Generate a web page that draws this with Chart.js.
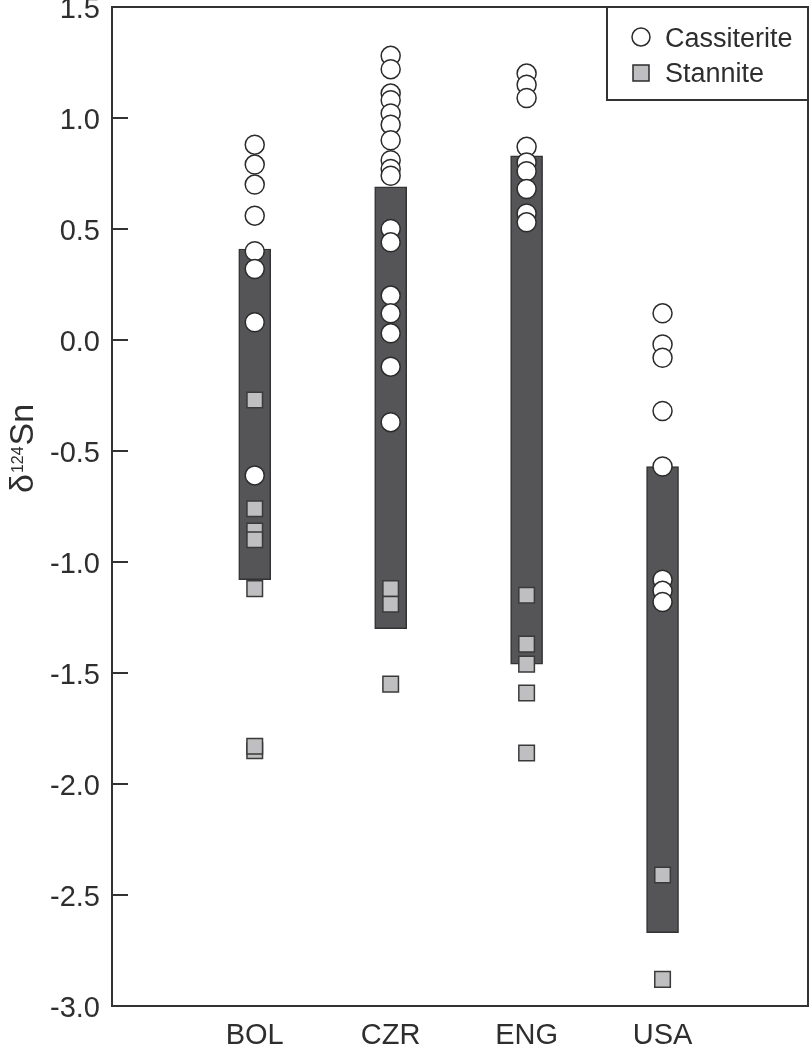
<!DOCTYPE html>
<html><head><meta charset="utf-8">
<script src="https://cdn.jsdelivr.net/npm/chart.js@4.4.1/dist/chart.umd.min.js"></script>
<style>html,body{margin:0;padding:0;background:#fff;}canvas{display:block;}</style>
</head><body>
<canvas id="c" width="809" height="1047"></canvas>
<script>
// ---- data ----
const categories = ['BOL', 'CZR', 'ENG', 'USA'];
const rangeLow  = [-1.08, -1.30, -1.46, -2.67];
const rangeHigh = [0.41, 0.69, 0.83, -0.57];

const cassBOL = [0.88, 0.79, 0.70, 0.56, 0.40, 0.32, 0.08, -0.61];
const cassCZR = [1.28, 1.22, 1.11, 1.08, 1.02, 0.97, 0.90, 0.81, 0.77, 0.74, 0.50, 0.44, 0.20, 0.12, 0.03, -0.12, -0.37];
const cassENG = [1.20, 1.15, 1.09, 0.87, 0.80, 0.76, 0.68, 0.57, 0.53];
const cassUSA = [0.12, -0.02, -0.08, -0.32, -0.57, -1.08, -1.13, -1.18];

const stanBOL = [-0.27, -0.76, -0.86, -0.90, -1.12, -1.85, -1.83];
const stanCZR = [-1.12, -1.19, -1.55];
const stanENG = [-1.15, -1.37, -1.46, -1.59, -1.86];
const stanUSA = [-2.41, -2.88];

const seriesNames = ['Cassiterite', 'Stannite'];
const yMin = -3.0, yMax = 1.5, yStep = 0.5;

// ---- build ----
const FONT = "'Liberation Sans', Arial, Helvetica, sans-serif";
const INK = '#2e2e2e';
const cass = [cassBOL, cassCZR, cassENG, cassUSA];
const stan = [stanBOL, stanCZR, stanENG, stanUSA];
const toPts = groups => groups.flatMap((vals, i) => vals.map(v => ({x: i + 1, y: v})));

const decor = {
  id: 'decor',
  afterDraw(chart) {
    const {ctx, chartArea: a, scales: {y}} = chart;
    ctx.save();
    ctx.strokeStyle = '#333';
    ctx.lineWidth = 2;
    ctx.strokeRect(a.left, a.top, a.right - a.left, a.bottom - a.top);
    // inward tick marks
    y.ticks.forEach(t => {
      if (t.value <= yMin || t.value >= yMax) return;
      const py = y.getPixelForValue(t.value);
      ctx.beginPath();
      ctx.moveTo(a.left, py);
      ctx.lineTo(a.left + 16, py);
      ctx.stroke();
    });
    // legend box
    const lx = 607, ly = a.top, lw = a.right - 607, lh = 100 - a.top;
    ctx.fillStyle = '#fff';
    ctx.fillRect(lx, ly, lw, lh);
    ctx.strokeRect(lx, ly, lw, lh);
    ctx.lineWidth = 1.5;
    ctx.strokeStyle = '#2b2b2b';
    ctx.beginPath();
    ctx.arc(641, 37, 9, 0, Math.PI * 2);
    ctx.fillStyle = '#fff';
    ctx.fill();
    ctx.stroke();
    ctx.fillStyle = '#bfbfc1';
    ctx.fillRect(633, 65, 16, 16);
    ctx.strokeRect(633, 65, 16, 16);
    ctx.fillStyle = INK;
    ctx.font = '27px ' + FONT;
    ctx.textBaseline = 'alphabetic';
    ctx.textAlign = 'left';
    ctx.fillText(seriesNames[0], 665, 47);
    ctx.fillText(seriesNames[1], 665, 82);
    // y-axis title: δ124Sn
    ctx.translate(33, 493);
    ctx.rotate(-Math.PI / 2);
    let x = 0;
    ctx.font = '34px ' + FONT;
    ctx.fillText('δ', x, 0);
    x += ctx.measureText('δ').width + 1;
    ctx.font = '16px ' + FONT;
    ctx.fillText('124', x, -10);
    x += ctx.measureText('124').width + 1;
    ctx.font = '34px ' + FONT;
    ctx.fillText('Sn', x, 0);
    ctx.restore();
  }
};

new Chart(document.getElementById('c'), {
  type: 'scatter',
  data: {
    datasets: [
      {
        type: 'bar',
        label: 'range',
        data: categories.map((c, i) => ({x: i + 1, y: [rangeLow[i], rangeHigh[i]]})),
        barThickness: 32,
        backgroundColor: '#555557',
        borderColor: '#333335',
        borderWidth: 1.5,
        borderSkipped: false,
        order: 3
      },
      {
        type: 'scatter',
        label: seriesNames[1],
        data: toPts(stan),
        pointStyle: 'rect',
        pointRadius: 11,
        backgroundColor: '#bfbfc1',
        borderColor: '#3a3a3a',
        borderWidth: 1.5,
        order: 2,
        clip: false
      },
      {
        type: 'scatter',
        label: seriesNames[0],
        data: toPts(cass),
        pointStyle: 'circle',
        pointRadius: 9.5,
        backgroundColor: '#ffffff',
        borderColor: '#2b2b2b',
        borderWidth: 1.5,
        order: 1,
        clip: false
      }
    ]
  },
  options: {
    responsive: false,
    animation: false,
    devicePixelRatio: 1,
    layout: {autoPadding: false, padding: {top: 7, right: 1, left: 0, bottom: 0}},
    plugins: {legend: {display: false}, tooltip: {enabled: false}},
    scales: {
      x: {
        type: 'linear', min: -0.05, max: 5.07, offset: false,
        grid: {display: false, drawTicks: false}, border: {display: false},
        afterBuildTicks: s => { s.ticks = categories.map((c, i) => ({value: i + 1})); },
        ticks: {
          callback: v => categories[Math.round(v) - 1] ?? '',
          font: {size: 29, family: FONT}, color: INK, padding: 13,
          autoSkip: false, maxRotation: 0
        },
        afterFit: s => { s.height = 41; s.paddingLeft = 0; s.paddingRight = 0; }
      },
      y: {
        type: 'linear', min: yMin, max: yMax,
        grid: {display: false, drawTicks: false}, border: {display: false},
        ticks: {
          stepSize: yStep, callback: v => v.toFixed(1),
          font: {size: 29, family: FONT}, color: INK, padding: 12, labelOffset: 3
        },
        afterFit: s => { s.width = 112; s.paddingTop = 0; s.paddingBottom = 0; }
      }
    }
  },
  plugins: [decor]
});
</script>
</body></html>
